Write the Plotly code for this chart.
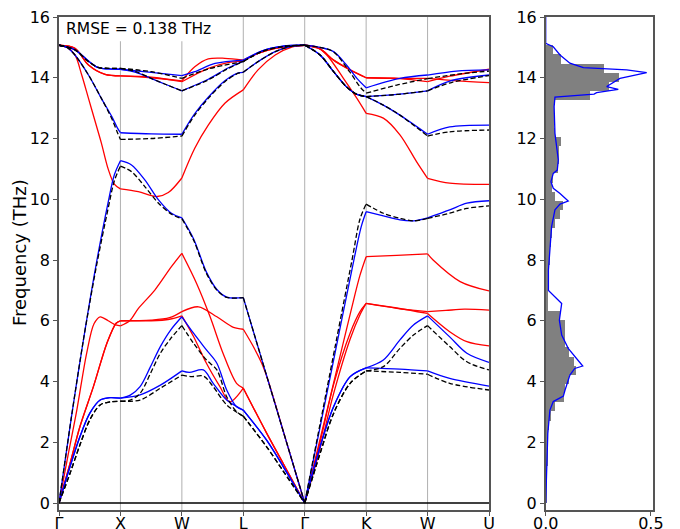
import plotly.graph_objects as go

# ---------------- high-symmetry path ----------------
path_labels = ["Γ", "X", "W", "L", "Γ", "K", "W", "U"]
path_pos = [0, 1, 2, 3, 4, 5, 6, 7]
rmse_text = "RMSE = 0.138 THz"

# ---------------- reference (black dashed) branches: (q, THz) ----------------
dft_1 = [(0, 15.07), (0.26, 14.92), (0.48, 14.53), (0.64, 14.34), (0.8, 14.31), (1, 14.31),
         (1.5, 14.2), (2, 13.98),
         (2.45, 14.3), (3, 14.53),
         (3.3, 14.86), (3.65, 15.03), (4, 15.07),
         (4.25, 15.0), (4.47, 14.85), (4.73, 14.2), (4.9, 13.7), (5, 13.49),
         (5.5, 13.76), (6, 13.97),
         (6.5, 14.12), (7, 14.22)]
dft_2 = [(0, 15.07), (0.26, 14.92), (0.48, 14.53), (0.64, 14.34), (0.8, 14.31), (1, 14.31),
         (1.25, 14.2), (1.5, 13.98), (1.75, 13.77), (2, 13.57),
         (2.43, 13.93), (2.75, 14.3), (3, 14.53),
         (3.3, 14.86), (3.65, 15.03), (4, 15.07),
         (4.25, 14.75), (4.47, 14.2), (4.68, 13.7), (4.85, 13.45), (5, 13.38),
         (5.5, 13.45), (6, 13.57),
         (6.4, 13.85), (7, 14.07)]
dft_3 = [(0, 15.07), (0.13, 15.0), (0.26, 14.75), (0.48, 14.09), (0.69, 13.32), (0.86, 12.65), (0.95, 12.2), (1, 11.97),
         (1.5, 12.0), (2, 12.08),
         (2.21, 12.77), (2.43, 13.32), (2.7, 13.87), (2.92, 14.15), (3, 14.18),
         (3.24, 14.53), (3.52, 14.86), (3.8, 15.04), (4, 15.07),
         (4.25, 14.75), (4.47, 14.2), (4.68, 13.7), (4.85, 13.45), (5, 13.38),
         (5.28, 13.1), (5.55, 12.77), (6, 12.08),
         (6.36, 12.22), (7, 12.28)]
dft_4 = [(0, 0), (0.2, 2.8), (0.4, 5.4), (0.6, 7.7), (0.8, 9.7), (0.9, 10.6), (1, 11.09),
         (1.18, 10.91), (1.4, 10.41), (1.62, 9.87), (1.83, 9.51), (2, 9.36),
         (2.19, 8.66), (2.4, 7.56), (2.57, 7.01), (2.73, 6.77), (3, 6.76),
         (3.5, 3.38), (4, 0),
         (4.5, 5.2), (4.77, 8.0), (4.9, 9.35), (5, 9.84),
         (5.28, 9.54), (5.55, 9.37), (5.77, 9.29), (6, 9.37),
         (6.36, 9.54), (6.64, 9.7), (7, 9.78)]
dft_5 = [(0, 0), (0.18, 0.98), (0.34, 1.91), (0.5, 2.73), (0.67, 3.23), (0.83, 3.33), (1, 3.35),
         (1.16, 3.39), (1.32, 3.61), (1.49, 4.27), (1.65, 4.93), (1.82, 5.42), (2, 5.84),
         (2.19, 5.26), (2.4, 4.71), (2.57, 4.38), (2.73, 3.5), (2.89, 3.01), (3, 2.86),
         (3.38, 1.85), (3.65, 1.05), (4, 0),
         (4.25, 1.63), (4.47, 2.95), (4.74, 3.94), (5, 4.35),
         (5.28, 4.49), (5.55, 5.09), (5.77, 5.53), (6, 5.84),
         (6.36, 5.15), (6.64, 4.65), (7, 4.38)]
dft_6 = [(0, 0), (0.18, 0.98), (0.34, 1.91), (0.5, 2.73), (0.67, 3.23), (0.83, 3.33), (1, 3.35),
         (1.32, 3.39), (1.65, 3.78), (2, 4.21),
         (2.16, 4.16), (2.35, 4.18), (2.51, 3.83), (2.73, 3.23), (3, 2.86),
         (3.38, 1.85), (3.65, 1.05), (4, 0),
         (4.25, 1.63), (4.47, 2.95), (4.74, 3.94), (5, 4.35),
         (5.55, 4.3), (6, 4.24),
         (6.36, 3.94), (7, 3.72)]

# ---------------- model A (blue) branches ----------------
blue_1 = [(0, 15.07), (0.26, 14.92), (0.48, 14.55), (0.64, 14.33), (0.8, 14.29), (1, 14.28),
          (1.5, 14.18), (2, 14.07),
          (2.21, 14.2), (2.54, 14.47), (3, 14.58),
          (3.3, 14.88), (3.65, 15.04), (4, 15.07),
          (4.25, 15.0), (4.47, 14.86), (4.68, 14.42), (4.85, 13.98), (5, 13.67),
          (5.55, 13.98), (6, 14.09),
          (6.47, 14.22), (7, 14.26)]
blue_2 = [(0, 15.07), (0.26, 14.92), (0.48, 14.55), (0.64, 14.33), (0.8, 14.29), (1, 14.28),
          (1.25, 14.18), (1.5, 13.98), (1.75, 13.77), (2, 13.57),
          (2.43, 13.95), (2.75, 14.32), (3, 14.55),
          (3.3, 14.88), (3.65, 15.04), (4, 15.07),
          (4.25, 14.75), (4.47, 14.2), (4.68, 13.7), (4.85, 13.45), (5, 13.38),
          (5.5, 13.45), (6, 13.57),
          (6.36, 13.89), (7, 14.09)]
blue_3 = [(0, 15.07), (0.13, 15.0), (0.26, 14.75), (0.48, 14.09), (0.69, 13.32), (0.86, 12.72), (0.95, 12.35), (1, 12.19),
          (1.5, 12.15), (2, 12.14),
          (2.21, 12.82), (2.43, 13.36), (2.7, 13.9), (2.92, 14.16), (3, 14.18),
          (3.24, 14.53), (3.52, 14.86), (3.8, 15.04), (4, 15.07),
          (4.25, 14.75), (4.47, 14.2), (4.68, 13.7), (4.85, 13.45), (5, 13.38),
          (5.28, 13.1), (5.55, 12.77), (6, 12.14),
          (6.36, 12.38), (7, 12.44)]
blue_4 = [(0, 0), (0.2, 2.8), (0.4, 5.4), (0.6, 7.8), (0.8, 9.9), (0.9, 10.8), (1, 11.27),
          (1.18, 11.13), (1.4, 10.63), (1.62, 9.98), (1.83, 9.54), (2, 9.39),
          (2.19, 8.7), (2.4, 7.6), (2.57, 7.03), (2.73, 6.78), (3, 6.76),
          (3.5, 3.38), (4, 0),
          (4.5, 5.0), (4.8, 8.0), (4.92, 9.1), (5, 9.59),
          (5.28, 9.45), (5.55, 9.32), (5.77, 9.29), (6, 9.39),
          (6.36, 9.65), (6.64, 9.87), (7, 9.95)]
blue_5 = [(0, 0), (0.18, 1.2), (0.34, 2.18), (0.5, 2.95), (0.67, 3.39), (0.83, 3.47), (1, 3.45),
          (1.16, 3.55), (1.32, 3.83), (1.49, 4.49), (1.65, 5.15), (1.82, 5.7), (2, 6.13),
          (2.19, 5.59), (2.4, 5.04), (2.57, 4.6), (2.73, 3.72), (2.89, 3.17), (3, 3.06),
          (3.38, 2.07), (3.65, 1.2), (4, 0),
          (4.25, 1.85), (4.47, 3.17), (4.74, 4.16), (5, 4.45),
          (5.28, 4.71), (5.55, 5.37), (5.77, 5.86), (6, 6.16),
          (6.36, 5.47), (6.64, 4.93), (7, 4.63)]
blue_6 = [(0, 0), (0.18, 1.2), (0.34, 2.18), (0.5, 2.95), (0.67, 3.39), (0.83, 3.47), (1, 3.45),
          (1.32, 3.56), (1.65, 3.88), (2, 4.35),
          (2.12, 4.3), (2.35, 4.38), (2.51, 3.94), (2.73, 3.39), (3, 3.06),
          (3.38, 2.07), (3.65, 1.2), (4, 0),
          (4.25, 1.85), (4.47, 3.17), (4.74, 4.16), (5, 4.45),
          (5.55, 4.41), (6, 4.35),
          (6.36, 4.1), (7, 3.85)]

# ---------------- model B (red) branches ----------------
red_1 = [(0, 15.07), (0.26, 14.97), (0.48, 14.42), (0.75, 14.11), (1, 14.06),
         (1.5, 14.0), (2, 13.9),
         (2.21, 14.36), (2.43, 14.62), (2.7, 14.64), (3, 14.58),
         (3.24, 14.8), (3.52, 14.97), (4, 15.07),
         (4.25, 14.95), (4.47, 14.58), (4.74, 14.26), (5, 14.0),
         (5.55, 13.97), (6, 13.87),
         (6.36, 14.05), (7, 14.28)]
red_2 = [(0, 15.07), (0.26, 14.97), (0.48, 14.42), (0.75, 14.11), (1, 14.06),
         (1.5, 14.02), (2, 13.87),
         (2.43, 14.31), (2.75, 14.5), (3, 14.55),
         (3.24, 14.8), (3.52, 14.97), (4, 15.07),
         (4.25, 14.95), (4.47, 14.58), (4.74, 14.26), (5, 14.0),
         (5.55, 13.98), (6, 13.98),
         (6.47, 13.9), (7, 13.84)]
red_3 = [(0, 15.07), (0.13, 15.0), (0.26, 14.75), (0.37, 14.09), (0.48, 13.32), (0.59, 12.55), (0.69, 11.85),
         (0.8, 11.0), (0.9, 10.5), (1, 10.34),
         (1.29, 10.25), (1.6, 10.09), (1.78, 10.22), (2, 10.7),
         (2.21, 11.68), (2.43, 12.44), (2.7, 13.16), (3, 13.6),
         (3.24, 14.26), (3.52, 14.75), (3.8, 15.02), (4, 15.07),
         (4.2, 15.0), (4.36, 14.75), (4.63, 13.98), (4.85, 13.32), (5, 12.83),
         (5.28, 12.67), (5.55, 12.12), (5.82, 11.24), (6, 10.69),
         (6.36, 10.53), (7, 10.49)]
red_4 = [(0, 0), (0.15, 1.6), (0.29, 3.06), (0.45, 4.93), (0.57, 5.9), (0.67, 6.13), (0.8, 6.0), (0.9, 5.88), (1, 5.83),
         (1.15, 6.0), (1.29, 6.4), (1.56, 7.01), (1.83, 7.78), (2, 8.22),
         (2.24, 7.23), (2.46, 6.13), (2.67, 4.93), (2.89, 3.94), (3, 3.78),
         (3.38, 2.3), (3.65, 1.3), (4, 0),
         (4.25, 2.1), (4.5, 4.2), (4.75, 6.3), (4.9, 7.5), (5, 8.11),
         (5.5, 8.15), (6, 8.2),
         (6.09, 8.0), (6.53, 7.29), (7, 6.98)]
red_5 = [(0, 0), (0.18, 1.3), (0.34, 2.51), (0.56, 3.83), (0.78, 5.26), (0.93, 5.92), (1, 6.0),
         (1.5, 6.02), (1.8, 6.1), (2, 6.3),
         (2.27, 6.46), (2.57, 6.13), (2.84, 5.78), (3, 5.72),
         (3.15, 5.2), (3.3, 4.6), (3.4, 4.06), (3.7, 2.03), (4, 0),
         (4.25, 2.0), (4.47, 3.9), (4.74, 5.6), (4.9, 6.3), (5, 6.57),
         (5.5, 6.41), (6, 6.3),
         (6.3, 6.34), (6.6, 6.38), (7, 6.35)]
red_6 = [(0, 0), (0.18, 1.3), (0.34, 2.51), (0.56, 3.83), (0.78, 5.26), (0.93, 5.92), (1, 6.0),
         (1.5, 6.0), (1.8, 6.05), (2, 6.16),
         (2.19, 5.48), (2.4, 4.6), (2.62, 3.83), (2.78, 3.33), (3, 3.78),
         (3.38, 2.3), (3.65, 1.3), (4, 0),
         (4.25, 1.8), (4.47, 3.6), (4.74, 5.4), (4.9, 6.2), (5, 6.57),
         (5.5, 6.42), (6, 6.24),
         (6.36, 5.64), (6.64, 5.31), (7, 5.17)]

# ---------------- DOS panel ----------------
dos_bin_width = 0.3014          # THz, bins start at 0
dos_hist = [0.001, 0.002, 0.003, 0.004, 0.005, 0.006, 0.008, 0.010, 0.013, 0.024,
            0.044, 0.087, 0.092, 0.107, 0.144, 0.134, 0.107, 0.090, 0.092, 0.092,
            0.068, 0.005, 0.005, 0.010, 0.010, 0.015, 0.020, 0.020, 0.025, 0.030,
            0.045, 0.065, 0.080, 0.045, 0.030, 0.035, 0.055, 0.060, 0.060, 0.070,
            0.045, 0.040, 0.040, 0.040, 0.210, 0.300, 0.345, 0.277, 0.073, 0.033]
dos_line_freq = [16.0, 15.13, 15.02, 14.75, 14.48, 14.33, 14.26, 14.17, 13.98, 13.71, 13.62, 13.51,
                 13.46, 13.38, 13.36, 13.05, 12.17, 11.29, 10.96, 10.85, 10.58, 10.36, 10.19, 9.94,
                 9.84, 9.65, 9.1, 8.33, 7.67, 7.0, 6.68, 6.57, 6.02, 5.53, 5.09, 4.82, 4.51, 4.43,
                 4.21, 3.72, 3.52, 3.34, 3.06, 2.29, 1.42, 0.0]
dos_line_val = [0.0, 0.0, 0.036, 0.068, 0.115, 0.179, 0.385, 0.48, 0.353, 0.29, 0.345, 0.242,
                0.23, 0.10, 0.044, 0.04, 0.044, 0.06, 0.055, 0.036, 0.025, 0.036, 0.068, 0.107,
                0.068, 0.044, 0.028, 0.02, 0.013, 0.013, 0.06, 0.076, 0.065, 0.076, 0.107, 0.138, 0.176, 0.138,
                0.115, 0.092, 0.084, 0.036, 0.02, 0.01, 0.005, 0.0]

YMIN, YMAX = -0.23, 16

fig = go.Figure()


def add_branch(points, color, dash):
    # one spline per path segment so kinks at high-symmetry points stay sharp
    for k in range(len(path_pos) - 1):
        seg = [p for p in points if path_pos[k] - 1e-9 <= p[0] <= path_pos[k + 1] + 1e-9]
        if len(seg) < 2:
            continue
        fig.add_trace(go.Scatter(
            x=[p[0] for p in seg], y=[p[1] for p in seg], mode="lines",
            line=dict(color=color, width=1.3, dash=dash, shape="spline", smoothing=0.9),
            hoverinfo="skip", showlegend=False, xaxis="x", yaxis="y"))


for b in [red_1, red_2, red_3, red_4, red_5, red_6]:
    add_branch(b, "#ff0000", "solid")
for b in [blue_1, blue_2, blue_3, blue_4, blue_5, blue_6]:
    add_branch(b, "#0000ff", "solid")
for b in [dft_1, dft_2, dft_3, dft_4, dft_5, dft_6]:
    add_branch(b, "#000000", "5px,2.5px")

# DOS histogram + curve
dos_centers = [(i + 0.5) * dos_bin_width for i in range(len(dos_hist))]
fig.add_trace(go.Bar(x=dos_hist, y=dos_centers, orientation="h", width=dos_bin_width,
                     marker=dict(color="#808080", line=dict(width=0)),
                     xaxis="x2", yaxis="y2", showlegend=False, hoverinfo="skip"))
fig.add_trace(go.Scatter(x=dos_line_val, y=dos_line_freq, mode="lines",
                         line=dict(color="#0000ff", width=1.3),
                         xaxis="x2", yaxis="y2", showlegend=False, hoverinfo="skip"))

W, H = 680, 529
ydom = [1 - 510 / H, 1 - 17 / H]
axis_common = dict(showgrid=False, zeroline=False, showline=True, mirror=True,
                   linecolor="#555555", linewidth=1.5, ticks="outside", ticklen=4,
                   tickwidth=1.2, tickcolor="#555555", automargin=False,
                   tickfont=dict(family="DejaVu Sans", size=16, color="black"))

fig.update_layout(
    width=W, height=H, margin=dict(l=0, r=0, t=0, b=0, pad=0, autoexpand=False),
    paper_bgcolor="white", plot_bgcolor="white", showlegend=False,
    font=dict(family="DejaVu Sans", size=16, color="black"),
    bargap=0,
    xaxis=dict(domain=[59 / W, 489 / W], range=[0, 7], tickvals=path_pos, ticktext=path_labels,
               anchor="y", ticklabelstandoff=-6, **axis_common),
    yaxis=dict(domain=ydom, range=[YMIN, YMAX], tickvals=list(range(0, 17, 2)),
               anchor="x", **axis_common),
    xaxis2=dict(domain=[545.7 / W, 653 / W], range=[0, 0.51], tickvals=[0, 0.5],
                ticktext=["0.0", "0.5"], anchor="y2", ticklabelstandoff=-6, **axis_common),
    yaxis2=dict(domain=ydom, range=[YMIN, YMAX], tickvals=list(range(0, 17, 2)),
                anchor="x2", **axis_common),
)

# vertical lines at high-symmetry points
for k in path_pos[1:-1]:
    fig.add_shape(type="line", x0=k, x1=k, y0=YMIN, y1=YMAX, xref="x", yref="y",
                  line=dict(color="#b0b0b0", width=1), layer="below")
# zero-frequency line
fig.add_shape(type="line", x0=0, x1=7, y0=0, y1=0, xref="x", yref="y",
              line=dict(color="black", width=1.5), layer="above")
# white box behind RMSE text
fig.add_shape(type="rect", x0=0.0, x1=2.58, y0=15.2, y1=YMAX, xref="x", yref="y",
              line=dict(width=0), fillcolor="white", layer="above")
fig.add_annotation(x=0.085, y=15.6, xref="x", yref="y", text=rmse_text, showarrow=False,
                   xanchor="left", yanchor="middle",
                   font=dict(family="DejaVu Sans", size=15.5, color="black"))
fig.add_annotation(x=19 / W, y=1 - 253 / H, xref="paper", yref="paper", text="Frequency (THz)",
                   textangle=-90, showarrow=False, xanchor="center", yanchor="middle",
                   font=dict(family="DejaVu Sans", size=18, color="black"))

fig.write_html("out.html")
